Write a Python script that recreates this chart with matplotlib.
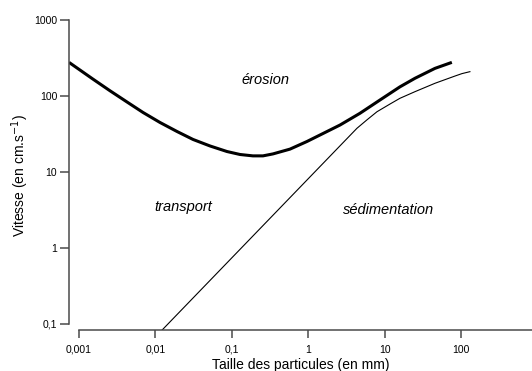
import numpy as np
import matplotlib.pyplot as plt
from matplotlib.ticker import FixedLocator, FixedFormatter, NullLocator

plt.rcParams['font.family'] = ['Liberation Sans', 'DejaVu Sans']

# courbe d'erosion (trait epais)
erosion_x = [0.00074, 0.00152, 0.00255, 0.00425, 0.00689, 0.0115, 0.0192,
             0.0311, 0.0519, 0.0865, 0.128, 0.189, 0.256, 0.346, 0.578, 0.964,
             1.43, 2.61, 4.76, 8.71, 15.9, 25.0, 45.7, 76]
erosion_y = [277, 167, 117, 83.4, 60.7, 44.8, 34.1,
             26.8, 22.0, 18.6, 17.0, 16.3, 16.3, 17.3, 20.0, 25.2,
             30.7, 41.5, 59.2, 88.6, 132, 171, 231, 277]

# courbe de sedimentation (trait fin)
sedim_x = [0.0122, 4.35, 5.89, 7.96, 11.8, 15.9, 25.0, 45.7, 83.4, 103, 131]
sedim_y = [0.083, 37.6, 48.6, 62.1, 78.5, 93.3, 114, 147, 183, 197, 209]

yticks = [0.1, 1, 10, 100, 1000]
ytick_labels = ['0,1', '1', '10', '100', '1000']
xticks = [0.001, 0.01, 0.1, 1, 10, 100]
xtick_labels = ['0,001', '0,01', '0,1', '1', '10', '100']

W, H = 532, 371
fig = plt.figure(figsize=(W / 100, H / 100), dpi=100)
ax = fig.add_axes([69 / W, 1 - 330 / H, (W - 69) / W, (330 - 20) / H])

ax.plot(erosion_x, erosion_y, color='black', lw=2.2, solid_capstyle='butt',
        solid_joinstyle='round')
ax.plot(sedim_x, sedim_y, color='black', lw=0.8, solid_joinstyle='round')

ax.set_xscale('log')
ax.set_yscale('log')
ax.set_xlim(10 ** -3.131, 10 ** 2.93)
ax.set_ylim(10 ** -1.079, 1000)

ax.xaxis.set_major_locator(FixedLocator(xticks))
ax.xaxis.set_major_formatter(FixedFormatter(xtick_labels))
ax.xaxis.set_minor_locator(NullLocator())
ax.yaxis.set_major_locator(FixedLocator(yticks))
ax.yaxis.set_major_formatter(FixedFormatter(ytick_labels))
ax.yaxis.set_minor_locator(NullLocator())

for s in ['top', 'right']:
    ax.spines[s].set_visible(False)
spine_col = '#4a4a4a'
ax.spines['left'].set_bounds(0.1, 1000)
ax.spines['bottom'].set_bounds(0.001, 10 ** 2.93)
for s in ['left', 'bottom']:
    ax.spines[s].set_color(spine_col)
    ax.spines[s].set_linewidth(1.1)

ax.tick_params(axis='y', length=6.5, width=1.1, color=spine_col, pad=2, labelsize=7.5)
ax.tick_params(axis='x', length=5.5, width=1.1, color=spine_col, pad=5, labelsize=7.5)

ax.set_xlabel('Taille des particules (en mm)', fontsize=10, labelpad=2.5)
ax.set_ylabel('Vitesse (en cm.s$^{-1}$)', fontsize=10, labelpad=2)

ax.text(0.28, 162, 'érosion', style='italic', fontsize=10.5, ha='center', va='center')
ax.text(0.0233, 3.46, 'transport', style='italic', fontsize=10.5, ha='center', va='center')
ax.text(11.4, 3.16, 'sédimentation', style='italic', fontsize=10.5, ha='center', va='center')

fig.savefig('out.png', dpi=100)
